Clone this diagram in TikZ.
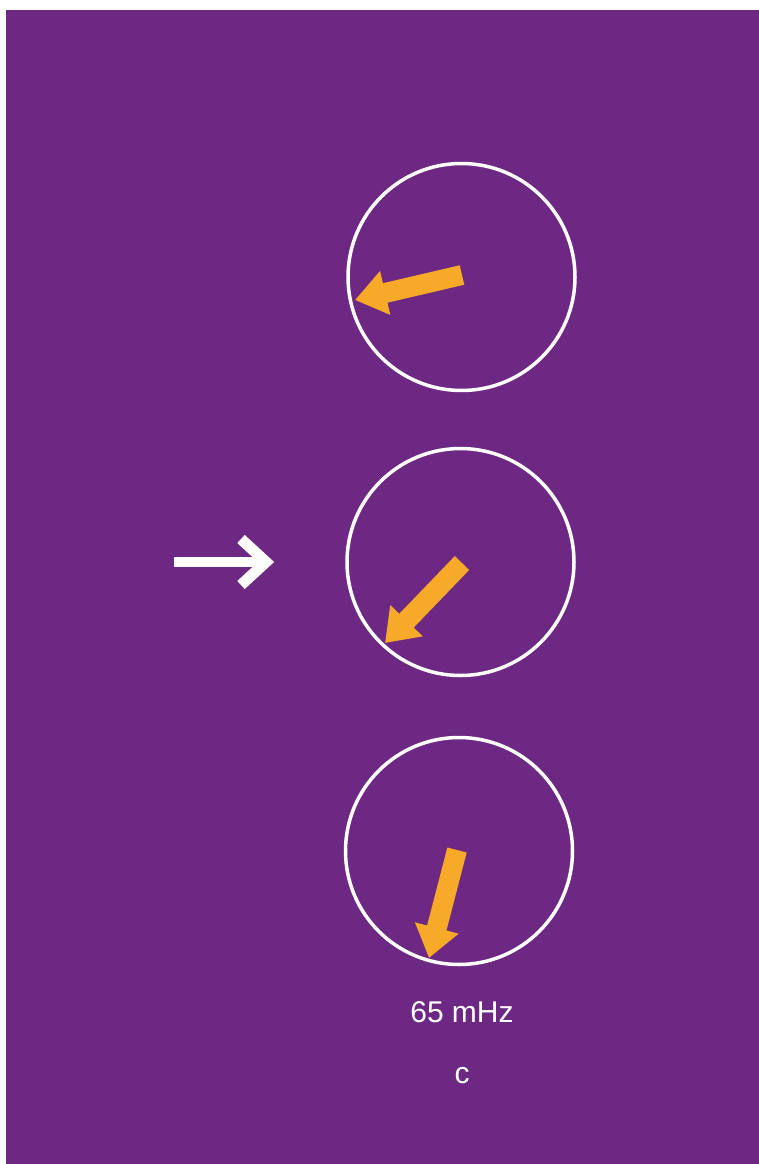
\documentclass[tikz,border=0pt]{standalone}
\usepackage{fontspec}
\setmainfont{Liberation Sans}
\usetikzlibrary{arrows.meta}
\definecolor{bgpurple}{RGB}{109,40,131}
\definecolor{phasor}{RGB}{246,170,40}
\tikzset{
  ring/.style={circle, draw=white, line width=3.5pt, minimum size=227pt, inner sep=0pt},
  phasorarrow/.style={draw=phasor, line width=20pt, -{Triangle[length=31pt,width=43pt]}},
  lbl/.style={text=white, font=\fontsize{30pt}{30pt}\selectfont, inner sep=0pt}
}
\begin{document}
\begin{tikzpicture}[x=1pt,y=-1pt]
\fill[white] (0,0) rectangle (759,1164);
\fill[bgpurple] (6,10) rectangle (759,1164);
\useasboundingbox (0,0) rectangle (759,1164);
% circles
\node[ring] (c1) at (461.5,277) {};
\node[ring] (c2) at (460.5,562) {};
\node[ring] (c3) at (459,851) {};
% phasor arrows
\coordinate (t1) at (462,275);
\coordinate (p1) at (355,300);
\coordinate (t2) at (462,563);
\coordinate (p2) at (385,643);
\coordinate (t3) at (457,850);
\coordinate (p3) at (429,958);
\draw[phasorarrow] (t1) -- (p1);
\draw[phasorarrow] (t2) -- (p2);
\draw[phasorarrow] (t3) -- (p3);
% white arrow
\coordinate (wa) at (174,562);
\coordinate (wb) at (266,562);
\coordinate (wu) at (241,539);
\coordinate (wd) at (241,585);
\draw[white, line width=10pt] (wa) -- (wb);
\draw[white, line width=11pt, miter limit=10] (wu) -- (wb) -- (wd);
% labels
\node[lbl, anchor=base] (freq) at (462,1022) {65 mHz};
\node[lbl, anchor=base] (lab) at (462,1083) {c};
\end{tikzpicture}
\end{document}
